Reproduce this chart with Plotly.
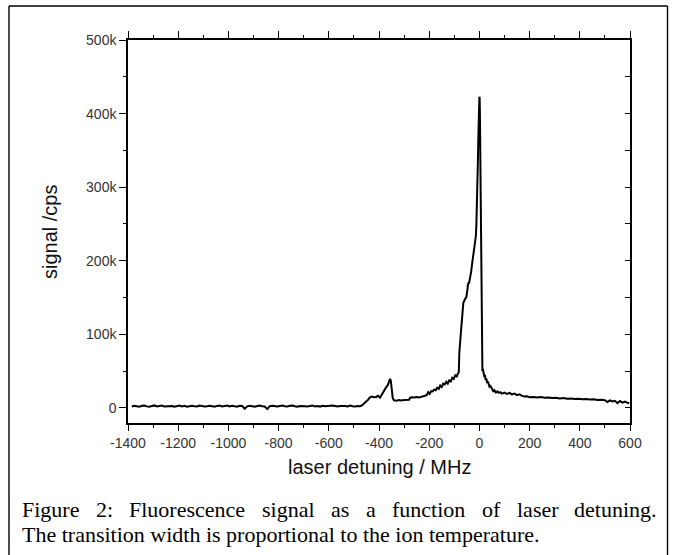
import plotly.graph_objects as go

# ---------------- data ----------------
# baseline region: x from -1385 MHz in 10 MHz steps, signal in k cps
base_x0 = -1385
base_step = 10
base_y = [2.0, 3.1, 2.4, 1.6, 2.9, 3.3, 2.2, 1.8, 2.7, 3.5,
          2.1, 2.6, 3.2, 1.9, 2.4, 3.0, 2.8, 1.7, 2.5, 3.4,
          2.2, 2.9, 1.8, 2.6, 3.1, 2.3, 2.0, 3.3, 2.7, 1.9,
          2.4, 3.0, 2.5, 1.6, 2.8, 3.2, 2.1, 2.6, 3.4, 2.0,
          2.9, 2.3, 1.8, 3.1, 2.7, -1.0, 2.2, 3.0, 2.5, 1.7,
          2.8, 3.3, 2.4, 2.0, -1.5, 2.6, 3.1, 2.2, 1.9, 2.7,
          3.2, 2.5, 2.1, 2.9, 3.4, 2.3, 1.8, 2.6, 3.0, 2.4,
          2.0, 2.8, 3.3, 2.2, 2.7, 1.9, 3.1, 2.5, 2.3, 2.9,
          3.2, 2.4, 2.1, 2.8, 3.0, 2.6, 2.2, 3.4, 2.5, 2.0,
          2.7, 2.4]

# feature region (MHz, k cps)
feat_x = [-468, -460, -452, -444, -436, -428, -420, -412, -404, -396,
          -388, -380, -372, -365, -360, -356, -353, -349, -345, -340,
          -330, -320, -310, -300, -290, -280, -276, -270, -260, -250,
          -240, -230, -220, -210, -204, -198, -192, -186, -180, -174,
          -168, -162, -156, -150, -144, -138, -132, -126, -120, -114,
          -108, -102, -96, -90, -86, -82, -80, -77, -73, -70,
          -67, -64, -60, -56, -52, -48, -45, -41, -37, -33,
          -29, -25, -21, -17, -14, -12, -10, -8, -6, -4,
          -2, -1, 0, 1, 2, 3, 4, 5, 6, 7,
          8, 9, 10, 12, 14, 16, 18, 20, 22, 25,
          28, 31, 34, 37, 40, 44, 48, 52, 56, 60,
          66, 72, 78, 84, 90, 100, 110, 120, 130, 140,
          150, 160, 170, 180, 190, 200, 215, 230, 245, 260,
          275, 290, 305, 320, 335, 350, 365, 380, 395, 410,
          425, 440, 455, 470, 485, 500, 510, 520, 530, 540,
          550, 560, 570, 580, 590, 597]
feat_y = [3.5, 5.5, 8.5, 11.0, 14.5, 15.5, 14.5, 15.0, 16.5, 14.0,
          19.0, 24.0, 28.0, 31.0, 35.0, 39.5, 37.0, 24.0, 13.0, 10.5,
          10.0, 10.8, 10.2, 11.0, 10.6, 11.2, 14.0, 14.6, 14.2, 15.0,
          14.4, 15.3, 16.0, 17.5, 21.5, 19.0, 23.0, 22.5, 25.0, 24.0,
          27.5, 26.0, 30.5, 28.5, 33.0, 32.0, 35.5, 33.0, 37.5, 36.0,
          41.0, 39.5, 44.5, 43.0, 46.5, 48.5, 75.0, 98.0, 106.0, 118.0,
          138.0, 143.0, 146.0, 149.0, 151.0, 160.0, 169.0, 170.0, 176.0, 185.0,
          196.0, 205.0, 215.0, 226.0, 234.0, 250.0, 272.0, 300.0, 335.0, 372.0,
          405.0, 420.0, 423.0, 421.0, 402.0, 360.0, 310.0, 250.0, 190.0, 135.0,
          95.0, 70.0, 58.0, 50.0, 53.0, 46.0, 48.0, 42.0, 45.0, 38.0,
          40.0, 34.0, 36.0, 31.0, 29.0, 30.0, 26.0, 25.0, 22.0, 24.0,
          21.0, 22.5, 20.5, 21.5, 19.5, 21.0, 19.0, 20.5, 18.5, 19.5,
          17.5, 18.5, 16.5, 15.5, 16.0, 14.5, 15.0, 14.2, 14.8, 13.8,
          14.3, 13.5, 13.9, 13.0, 13.6, 12.6, 12.9, 12.2, 12.7, 11.8,
          12.2, 11.4, 11.8, 10.9, 11.3, 10.6, 8.2, 10.4, 8.8, 9.8,
          6.6, 9.4, 7.2, 8.6, 7.0, 6.5]

x_tick_vals = [-1400, -1200, -1000, -800, -600, -400, -200, 0, 200, 400, 600]
x_tick_text = ["-1400", "-1200", "-1000", "-800", "-600", "-400", "-200",
               "0", "200", "400", "600"]
y_tick_vals = [0, 100, 200, 300, 400, 500]
y_tick_text = ["0", "100k", "200k", "300k", "400k", "500k"]

x_title = "laser detuning / MHz"
y_title = "signal /cps"
caption_line1 = "Figure 2: Fluorescence signal as a function of laser detuning."
caption_line2 = "The transition width is proportional to the ion temperature."

# ---------------- build ----------------
xs = [base_x0 + base_step * i for i in range(len(base_y))] + feat_x
ys = base_y + feat_y

W, H = 673, 555
L, R, T, B = 128, 630, 40, 423  # plot area in pixels


def px(x):
    return (x - L) / (R - L)


def py(y):
    return (B - y) / (B - T)


fig = go.Figure()
fig.add_trace(go.Scatter(x=xs, y=ys, mode="lines",
                         line=dict(color="black", width=2),
                         showlegend=False, hoverinfo="skip"))
fig.add_trace(go.Scatter(x=[None], y=[None], xaxis="x2", yaxis="y2",
                         showlegend=False, hoverinfo="skip"))

tickfont = dict(family="Liberation Sans, Arial", size=14, color="#333")
axis_common = dict(showline=True, linecolor="black", linewidth=1.5,
                   showgrid=False, zeroline=False, tickcolor="black",
                   tickwidth=1.3, tickfont=tickfont)

fig.update_layout(
    width=W, height=H,
    margin=dict(l=L, r=W - R, t=T, b=H - B),
    paper_bgcolor="white", plot_bgcolor="white",
    xaxis=dict(range=[-1400, 600], tickmode="array", tickvals=x_tick_vals,
               ticktext=x_tick_text, ticks="outside", ticklen=6,
               minor=dict(ticks="outside", ticklen=3.5, tickmode="linear",
                          tick0=-1400, dtick=100, tickcolor="black"),
               **axis_common),
    xaxis2=dict(range=[-1400, 600], overlaying="x", side="top",
                tickmode="array", tickvals=x_tick_vals, showticklabels=False,
                ticks="outside", ticklen=7,
                minor=dict(ticks="outside", ticklen=3.5, tickmode="linear",
                           tick0=-1400, dtick=100, tickcolor="black"),
                **axis_common),
    yaxis=dict(range=[-20.4, 500], tickmode="array", tickvals=y_tick_vals,
               ticktext=y_tick_text, ticks="outside", ticklen=7,
               minor=dict(ticks="outside", ticklen=3.5, tickmode="linear",
                          tick0=0, dtick=50, tickcolor="black"),
               **axis_common),
    yaxis2=dict(range=[-20.4, 500], overlaying="y", side="right",
                tickmode="array", tickvals=y_tick_vals, showticklabels=False,
                ticks="inside", ticklen=5,
                minor=dict(ticks="inside", ticklen=5, tickmode="linear",
                           tick0=0, dtick=50, tickcolor="black"),
                **axis_common),
)

# outer frame (left, top, right lines; bottom runs off the picture)
frame = dict(color="black", width=1.4)
fig.add_shape(type="line", xref="paper", yref="paper",
              x0=px(9), x1=px(9), y0=py(555), y1=py(6), line=frame)
fig.add_shape(type="line", xref="paper", yref="paper",
              x0=px(9), x1=px(667.5), y0=py(6), y1=py(6), line=frame)
fig.add_shape(type="line", xref="paper", yref="paper",
              x0=px(667.5), x1=px(667.5), y0=py(555), y1=py(6), line=frame)

title_font = dict(family="Liberation Sans, Arial", size=20, color="#111")
fig.add_annotation(text=x_title, xref="paper", yref="paper", x=px(379), y=py(467),
                   xanchor="center", yanchor="middle", showarrow=False, font=title_font)
fig.add_annotation(text=y_title, xref="paper", yref="paper", x=px(50), y=py(232),
                   xanchor="center", yanchor="middle", textangle=-90,
                   showarrow=False, font=title_font)

# caption (Times-metric widths for justification of the first line)
TW = {'a': 444, 'b': 500, 'c': 444, 'd': 500, 'e': 444, 'f': 333, 'g': 500, 'h': 500,
      'i': 278, 'j': 278, 'k': 500, 'l': 278, 'm': 778, 'n': 500, 'o': 500, 'p': 500,
      'q': 500, 'r': 333, 's': 389, 't': 278, 'u': 500, 'v': 500, 'w': 722, 'x': 500,
      'y': 500, 'z': 444, 'F': 556, 'T': 611, '2': 500, ':': 278, '.': 250}
CFS = 22
cap_font = dict(family="Liberation Serif, Times New Roman", size=CFS, color="black")
words = caption_line1.split()
widths = [sum(TW.get(c, 500) for c in w) * CFS / 1000 for w in words]
x_left, x_right = 20, 655
gap = (x_right - x_left - sum(widths)) / (len(words) - 1)
xpos = x_left
for w, wd in zip(words, widths):
    fig.add_annotation(text=w, xref="paper", yref="paper", x=px(xpos), y=py(510),
                       xanchor="left", yanchor="middle", showarrow=False,
                       font=cap_font)
    xpos += wd + gap
fig.add_annotation(text=caption_line2, xref="paper", yref="paper", x=px(20), y=py(534),
                   xanchor="left", yanchor="middle", showarrow=False, font=cap_font)

fig.write_html("out.html", config={"displayModeBar": False},
               post_script="document.body.style.margin='0';document.body.style.overflow='hidden';")
